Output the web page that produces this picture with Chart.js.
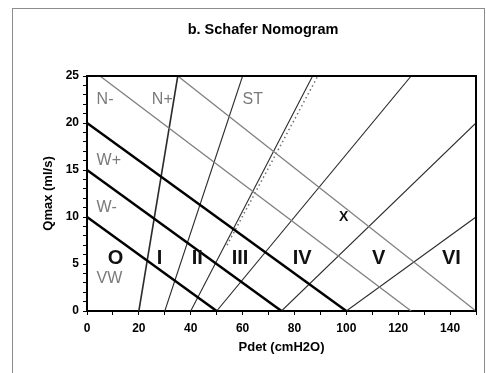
<!DOCTYPE html>
<html>
<head>
<meta charset="utf-8">
<script src="https://cdn.jsdelivr.net/npm/chart.js@4.4.1/dist/chart.umd.min.js"></script>
<style>
  html, body { margin: 0; padding: 0; background: #fff; }
  #wrap { width: 486px; height: 373px; }
</style>
</head>
<body>
<div id="wrap"><canvas id="nomogram"></canvas></div>
<script>
// line segments as [pdet0, qmax0, pdet1, qmax1]
var contractilityLines = [[0, 10, 50, 0], [0, 15, 75, 0], [0, 20, 100, 0]];
var upperLines = [[5, 25, 125, 0], [35, 25, 150, 0]];
var gradeLines = [[20, 0, 35, 25], [30, 0, 60, 25], [40, 0, 87, 25], [50, 0, 125, 25], [75, 0, 150, 20], [100, 0, 150, 10]];
var dottedLine = [54, 7, 89, 25];

// obstruction grades along the bottom
var zoneLabels = ['O', 'I', 'II', 'III', 'IV', 'V', 'VI'];
var zoneX = [11, 28, 42.5, 59, 83, 112.5, 140.5];
var zoneY = 5.6;

// contractility classes (grey)
var classLabels = ['N-', 'N+', 'ST', 'W+', 'W-', 'VW'];
var classX = [3.7, 25, 60, 3.7, 3.7, 3.7];
var classY = [22.5, 22.5, 22.5, 16, 11, 3.5];

var FONT = 'Arial, "Liberation Sans", sans-serif';

function seg(l, color, width, dash) {
  return {
    data: [{ x: l[0], y: l[1] }, { x: l[2], y: l[3] }],
    borderColor: color,
    borderWidth: width,
    borderDash: dash || [],
    pointRadius: 0,
    showLine: true,
    fill: false
  };
}

var datasets = [];
contractilityLines.forEach(function (l) { datasets.push(seg(l, '#000', 2.5)); });
upperLines.forEach(function (l) { datasets.push(seg(l, '#7f7f7f', 1.3)); });
gradeLines.forEach(function (l, i) { datasets.push(seg(l, '#2b2b2b', i === 0 ? 1.6 : 1.1)); });
datasets.push(seg(dottedLine, '#707070', 1.5, [1.5, 3]));

var decor = {
  id: 'decor',
  beforeDraw: function (chart) {
    var ctx = chart.ctx;
    ctx.save();
    ctx.strokeStyle = '#8c8c8c';
    ctx.lineWidth = 1;
    ctx.strokeRect(12.5, 8.5, 472, 400);
    ctx.fillStyle = '#000';
    ctx.font = 'bold 14.5px ' + FONT;
    ctx.textAlign = 'center';
    ctx.textBaseline = 'middle';
    ctx.fillText('b. Schafer Nomogram', 263, 30);
    ctx.restore();
  },
  afterDatasetsDraw: function (chart) {
    var ctx = chart.ctx, a = chart.chartArea;
    var xs = chart.scales.x, ys = chart.scales.y;
    ctx.save();
    ctx.strokeStyle = '#000';
    ctx.lineWidth = 2;
    ctx.beginPath();
    ctx.moveTo(a.left, a.top);
    ctx.lineTo(a.right, a.top);
    ctx.lineTo(a.right, a.bottom);
    ctx.stroke();

    ctx.textBaseline = 'middle';
    ctx.fillStyle = '#7a7a7a';
    ctx.font = '16px ' + FONT;
    ctx.textAlign = 'left';
    classLabels.forEach(function (t, i) {
      ctx.fillText(t, xs.getPixelForValue(classX[i]), ys.getPixelForValue(classY[i]));
    });

    ctx.fillStyle = '#111';
    ctx.font = 'bold 20px ' + FONT;
    ctx.textAlign = 'center';
    zoneLabels.forEach(function (t, i) {
      ctx.fillText(t, xs.getPixelForValue(zoneX[i]), ys.getPixelForValue(zoneY));
    });
    ctx.font = 'bold 14px ' + FONT;
    ctx.fillText('X', xs.getPixelForValue(99), ys.getPixelForValue(10));
    ctx.restore();
  }
};

new Chart(document.getElementById('nomogram'), {
  type: 'scatter',
  data: { datasets: datasets },
  plugins: [decor],
  options: {
    responsive: true,
    maintainAspectRatio: false,
    animation: false,
    layout: { padding: { top: 76, right: 10, bottom: 0, left: 0 } },
    plugins: {
      legend: { display: false },
      tooltip: { enabled: false },
      title: { display: false }
    },
    scales: {
      x: {
        type: 'linear',
        min: 0,
        max: 150,
        afterFit: function (s) { s.height = 62; },
        border: { color: '#000', width: 2 },
        grid: { drawOnChartArea: false, tickLength: 4, tickColor: '#000' },
        ticks: {
          stepSize: 10,
          autoSkip: false,
          maxRotation: 0,
          padding: 6,
          color: '#000',
          font: { family: FONT, size: 12, weight: 'bold' },
          callback: function (v) { return v % 20 === 0 ? v : ''; }
        },
        title: {
          display: true,
          text: 'Pdet (cmH2O)',
          color: '#000',
          font: { family: FONT, size: 13, weight: 'bold' },
          padding: { top: 0, bottom: 18 }
        }
      },
      y: {
        type: 'linear',
        min: 0,
        max: 25,
        afterFit: function (s) { s.width = 87; },
        border: { color: '#000', width: 2 },
        grid: { drawOnChartArea: false, tickLength: 4, tickColor: '#000' },
        ticks: {
          stepSize: 1,
          autoSkip: false,
          padding: 4,
          color: '#000',
          font: { family: FONT, size: 12, weight: 'bold' },
          callback: function (v) { return v % 5 === 0 ? v : ''; }
        },
        title: {
          display: true,
          text: 'Qmax (ml/s)',
          color: '#000',
          font: { family: FONT, size: 13, weight: 'bold' },
          padding: { top: 41, bottom: 0 }
        }
      }
    }
  }
});
</script>
</body>
</html>
